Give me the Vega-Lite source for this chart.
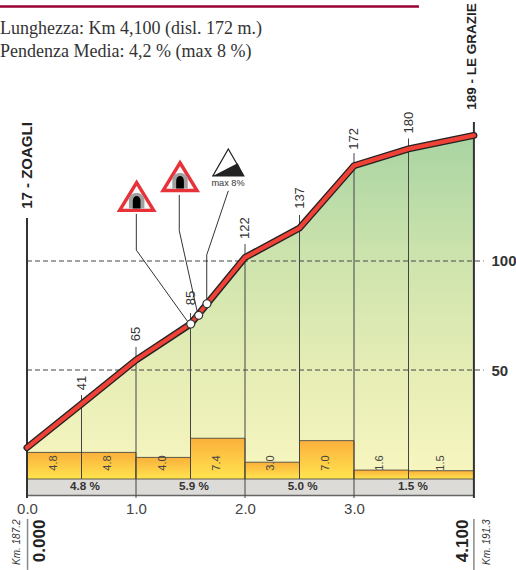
{
"$schema":"https://vega.github.io/schema/vega-lite/v6.json",
"width":516,"height":570,"padding":0,"autosize":{"type":"none"},
"background":"white",
"config":{"view":{"stroke":null},"text":{"font":"Liberation Sans"}},
"datasets":{
"profile":[
{"km":0,"alt":14.4,"quota":17},{"km":0.5,"alt":34.4,"quota":41},{"km":1,"alt":54.6,"quota":65},{"km":1.5,"alt":71.1,"quota":85},{"km":2,"alt":101.6,"quota":122},{"km":2.5,"alt":115.1,"quota":137},{"km":3,"alt":143.7,"quota":172},{"km":3.5,"alt":151.4,"quota":180},{"km":4.1,"alt":157.6,"quota":189}],
"stems":[
{"km":0.5,"top":38.5,"base":0,"quota":"41","lab":44},
{"km":1,"top":60.6,"base":-8.7,"quota":"65","lab":66.5},
{"km":1.5,"top":76.1,"base":0,"quota":"85","lab":83},
{"km":2,"top":107.8,"base":-8.7,"quota":"122","lab":115.1},
{"km":2.5,"top":121.1,"base":0,"quota":"137","lab":128.9},
{"km":3,"top":149.5,"base":-8.7,"quota":"172","lab":156},
{"km":3.5,"top":156.2,"base":0,"quota":"180","lab":163.5}],
"edges":[{"km":0,"top":119.7,"base":-8.7},{"km":4.1,"top":163.8,"base":-8.7}],
"grid":[{"value":100,"from":0,"to":4.19},{"value":50,"from":0,"to":4.19}],
"bars":[
{"start":0,"end":0.5,"top":12.2,"grade":"4.8","mid":0.25},
{"start":0.5,"end":1,"top":12.2,"grade":"4.8","mid":0.745},
{"start":1,"end":1.5,"top":9.9,"grade":"4.0","mid":1.245},
{"start":1.5,"end":2,"top":18.7,"grade":"7.4","mid":1.74},
{"start":2,"end":2.5,"top":7.7,"grade":"3.0","mid":2.24},
{"start":2.5,"end":3,"top":17.6,"grade":"7.0","mid":2.745},
{"start":3,"end":3.5,"top":4.1,"grade":"1.6","mid":3.24},
{"start":3.5,"end":4.1,"top":3.8,"grade":"1.5","mid":3.8}],
"band":[
{"start":0,"end":1,"label":"4.8 %","mid":0.532},
{"start":1,"end":2,"label":"5.9 %","mid":1.532},
{"start":2,"end":3,"label":"5.0 %","mid":2.53},
{"start":3,"end":4.1,"label":"1.5 %","mid":3.54}],
"leaders":[
{"g":"a","seq":1,"km":1.003,"v":121.6},{"g":"a","seq":2,"km":1.003,"v":105},{"g":"a","seq":3,"km":1.477,"v":72},
{"g":"b","seq":1,"km":1.397,"v":130.3},{"g":"b","seq":2,"km":1.397,"v":113.9},{"g":"b","seq":3,"km":1.562,"v":76.7},
{"g":"c","seq":1,"km":1.847,"v":132.2},{"g":"c","seq":2,"km":1.649,"v":102.8},{"g":"c","seq":3,"km":1.649,"v":82.1}],
"spots":[{"km":1.502,"v":71.1},{"km":1.575,"v":75.1},{"km":1.651,"v":80.4}],
"tunnels":[{"km":1.006,"v":130.3},{"km":1.404,"v":139.4}],
"climb":[{"km":1.847,"v":145.2}],
"header":[
{"km":-0.2477,"v":206.4,"t":"Lunghezza: Km 4,100 (disl. 172 m.)"},
{"km":-0.2477,"v":195.9,"t":"Pendenza Media: 4,2 % (max 8 %)"}],
"distance":[{"km":0.1165,"v":-28.4,"t":"0.000"},{"km":3.997,"v":-28.4,"t":"4.100"}],
"kmlabels":[{"km":-0.089,"v":-29,"t":"Km. 187.2"},{"km":4.217,"v":-29,"t":"Km. 191.3"}],
"sep":[{"km":0.005,"top":-18.3,"base":-41.7},{"km":4.1,"top":-18.3,"base":-41.7}]
},
"layer":[
{"data":{"name":"profile"},
 "mark":{"type":"area","line":false,"color":{"gradient":"linear","x1":0,"y1":0,"x2":0,"y2":1,"stops":[{"offset":0,"color":"#a8d4a2"},{"offset":0.37,"color":"#cfe4ae"},{"offset":0.69,"color":"#e6edb5"},{"offset":1,"color":"#f8f6c0"}]}},
 "encoding":{
  "x":{"field":"km","type":"quantitative","scale":{"domain":[-0.2477,4.4862],"nice":false,"zero":false},
   "axis":{"title":null,"orient":"bottom","offset":-73,"values":[0,1,2,3],"format":".1f","domain":false,"ticks":false,"grid":false,"labelPadding":4,"labelFontSize":15,"labelColor":"#444444","labelFont":"Liberation Sans","labelFlush":false,"labelOverlap":false}},
  "y":{"field":"alt","type":"quantitative","scale":{"domain":[-41.74,219.72],"nice":false,"zero":false},
   "axis":{"title":null,"orient":"right","offset":-25,"values":[50,100],"domain":false,"ticks":false,"grid":false,"labelPadding":0,"labelFontSize":15,"labelFontWeight":"bold","labelColor":"#333333","labelFont":"Liberation Sans"}},
  "y2":{"datum":0}}},
{"data":{"name":"grid"},"mark":{"type":"rule","color":"#444444","strokeWidth":1,"strokeDash":[5,3]},
 "encoding":{"x":{"field":"from","type":"quantitative"},"x2":{"field":"to"},"y":{"field":"value","type":"quantitative"}}},
{"data":{"name":"band"},"mark":{"type":"rect","color":"#dddbd8"},
 "encoding":{"x":{"field":"start","type":"quantitative"},"x2":{"field":"end"},"y":{"datum":0},"y2":{"datum":-7.4}}},
{"data":{"name":"band"},"mark":{"type":"rule","color":"#666666","strokeWidth":1.5},
 "encoding":{"x":{"field":"start","type":"quantitative"},"x2":{"field":"end"},"y":{"datum":-7.6}}},
{"data":{"name":"bars"},"mark":{"type":"rect","stroke":"#3a3a3a","strokeWidth":0.8,"color":{"gradient":"linear","x1":0,"y1":0,"x2":0,"y2":1,"stops":[{"offset":0,"color":"#fbb03b"},{"offset":1,"color":"#ffe44f"}]}},
 "encoding":{"x":{"field":"start","type":"quantitative"},"x2":{"field":"end"},"y":{"field":"top","type":"quantitative"},"y2":{"datum":0}}},
{"data":{"name":"stems"},"mark":{"type":"rule","color":"#444444","strokeWidth":1},
 "encoding":{"x":{"field":"km","type":"quantitative"},"y":{"field":"top","type":"quantitative"},"y2":{"field":"base"}}},
{"data":{"name":"edges"},"mark":{"type":"rule","color":"#333333","strokeWidth":2},
 "encoding":{"x":{"field":"km","type":"quantitative"},"y":{"field":"top","type":"quantitative"},"y2":{"field":"base"}}},
{"data":{"name":"sep"},"mark":{"type":"rule","color":"#888888","strokeWidth":1.5},
 "encoding":{"x":{"field":"km","type":"quantitative"},"y":{"field":"top","type":"quantitative"},"y2":{"field":"base"}}},
{"data":{"name":"leaders"},"mark":{"type":"line","color":"#333333","strokeWidth":1},
 "encoding":{"x":{"field":"km","type":"quantitative"},"y":{"field":"v","type":"quantitative"},"detail":{"field":"g"},"order":{"field":"seq"}}},
{"data":{"name":"profile"},"mark":{"type":"line","color":"#222222","strokeWidth":7,"strokeCap":"round","strokeJoin":"miter"},
 "encoding":{"x":{"field":"km","type":"quantitative"},"y":{"field":"alt","type":"quantitative"}}},
{"data":{"name":"profile"},"mark":{"type":"line","color":"#ef4136","strokeWidth":4.3,"strokeCap":"round","strokeJoin":"miter"},
 "encoding":{"x":{"field":"km","type":"quantitative"},"y":{"field":"alt","type":"quantitative"}}},
{"data":{"name":"spots"},"mark":{"type":"point","filled":true,"fill":"white","stroke":"#333333","strokeWidth":1.2,"size":64,"opacity":1,"shape":"circle"},
 "encoding":{"x":{"field":"km","type":"quantitative"},"y":{"field":"v","type":"quantitative"}}},
{"data":{"name":"tunnels"},"mark":{"type":"point","filled":true,"fill":"#f6f8f8","stroke":"#e8323a","strokeWidth":3.4,"strokeJoin":"miter","size":1490,"opacity":1,"shape":"M0,-0.64 L0.88,0.8 L-0.88,0.8 Z"},
 "encoding":{"x":{"field":"km","type":"quantitative"},"y":{"field":"v","type":"quantitative"}}},
{"data":{"name":"tunnels"},"mark":{"type":"point","filled":true,"fill":"#a0a0a0","strokeWidth":0,"size":1490,"opacity":1,"shape":"M-0.4,0.7 L-0.4,0.25 C-0.4,-0.22 0.4,-0.22 0.4,0.25 L0.4,0.7 Z"},
 "encoding":{"x":{"field":"km","type":"quantitative"},"y":{"field":"v","type":"quantitative"}}},
{"data":{"name":"tunnels"},"mark":{"type":"point","filled":true,"fill":"#000000","strokeWidth":0,"size":1490,"opacity":1,"shape":"M-0.2,0.7 L-0.2,0.3 C-0.2,-0.03 0.2,-0.03 0.2,0.3 L0.2,0.7 Z"},
 "encoding":{"x":{"field":"km","type":"quantitative"},"y":{"field":"v","type":"quantitative"}}},
{"data":{"name":"climb"},"mark":{"type":"point","filled":true,"fill":"white","stroke":"#222222","strokeWidth":1.2,"size":961,"opacity":1,"shape":"M0,-0.87 L1,0.87 L-1,0.87 Z"},
 "encoding":{"x":{"field":"km","type":"quantitative"},"y":{"field":"v","type":"quantitative"}}},
{"data":{"name":"climb"},"mark":{"type":"point","filled":true,"fill":"#222222","strokeWidth":0,"size":961,"opacity":1,"shape":"M-1,0.87 L0.6,0.05 L1,0.87 Z"},
 "encoding":{"x":{"field":"km","type":"quantitative"},"y":{"field":"v","type":"quantitative"}}},
{"data":{"values":[{"km":1.844,"v":135.6,"t":"max 8%"}]},"mark":{"type":"text","fontSize":9.2,"color":"#333333","baseline":"middle"},
 "encoding":{"x":{"field":"km","type":"quantitative"},"y":{"field":"v","type":"quantitative"},"text":{"field":"t"}}},
{"data":{"name":"stems"},"mark":{"type":"text","fontSize":13,"angle":270,"color":"#333333","baseline":"middle","align":"center"},
 "encoding":{"x":{"field":"km","type":"quantitative"},"y":{"field":"lab","type":"quantitative"},"text":{"field":"quota"}}},
{"data":{"name":"bars"},"mark":{"type":"text","fontSize":11,"angle":270,"color":"#444444","baseline":"middle","align":"center"},
 "encoding":{"x":{"field":"mid","type":"quantitative"},"y":{"datum":7.3},"text":{"field":"grade"}}},
{"data":{"name":"band"},"mark":{"type":"text","fontSize":11.7,"fontWeight":"bold","color":"#333333","baseline":"middle","align":"center"},
 "encoding":{"x":{"field":"mid","type":"quantitative"},"y":{"datum":-3.2},"text":{"field":"label"}}},
{"data":{"name":"header"},"mark":{"type":"text","font":"Liberation Serif","fontSize":18,"color":"#333333","baseline":"middle","align":"left"},
 "encoding":{"x":{"field":"km","type":"quantitative"},"y":{"field":"v","type":"quantitative"},"text":{"field":"t"}}},
{"data":{"values":[{"from":-0.2477,"to":3.596,"v":216.7}]},"mark":{"type":"rule","color":"#990033","strokeWidth":2.5},
 "encoding":{"x":{"field":"from","type":"quantitative"},"x2":{"field":"to"},"y":{"field":"v","type":"quantitative"}}},
{"data":{"values":[{"km":0,"v":143.8,"t":"17 - ZOAGLI"}]},"mark":{"type":"text","fontSize":15,"fontWeight":"bold","angle":270,"color":"#222222","baseline":"middle","align":"center"},
 "encoding":{"x":{"field":"km","type":"quantitative"},"y":{"field":"v","type":"quantitative"},"text":{"field":"t"}}},
{"data":{"values":[{"km":4.085,"v":193.8,"t":"189 - LE GRAZIE"}]},"mark":{"type":"text","fontSize":13.5,"fontWeight":"bold","angle":270,"color":"#222222","baseline":"middle","align":"center"},
 "encoding":{"x":{"field":"km","type":"quantitative"},"y":{"field":"v","type":"quantitative"},"text":{"field":"t"}}},
{"data":{"name":"distance"},"mark":{"type":"text","fontSize":17,"fontWeight":"bold","angle":270,"color":"#222222","baseline":"middle","align":"center"},
 "encoding":{"x":{"field":"km","type":"quantitative"},"y":{"field":"v","type":"quantitative"},"text":{"field":"t"}}},
{"data":{"name":"kmlabels"},"mark":{"type":"text","fontSize":10,"fontStyle":"italic","angle":270,"color":"#333333","baseline":"middle","align":"center"},
 "encoding":{"x":{"field":"km","type":"quantitative"},"y":{"field":"v","type":"quantitative"},"text":{"field":"t"}}}
]
}
